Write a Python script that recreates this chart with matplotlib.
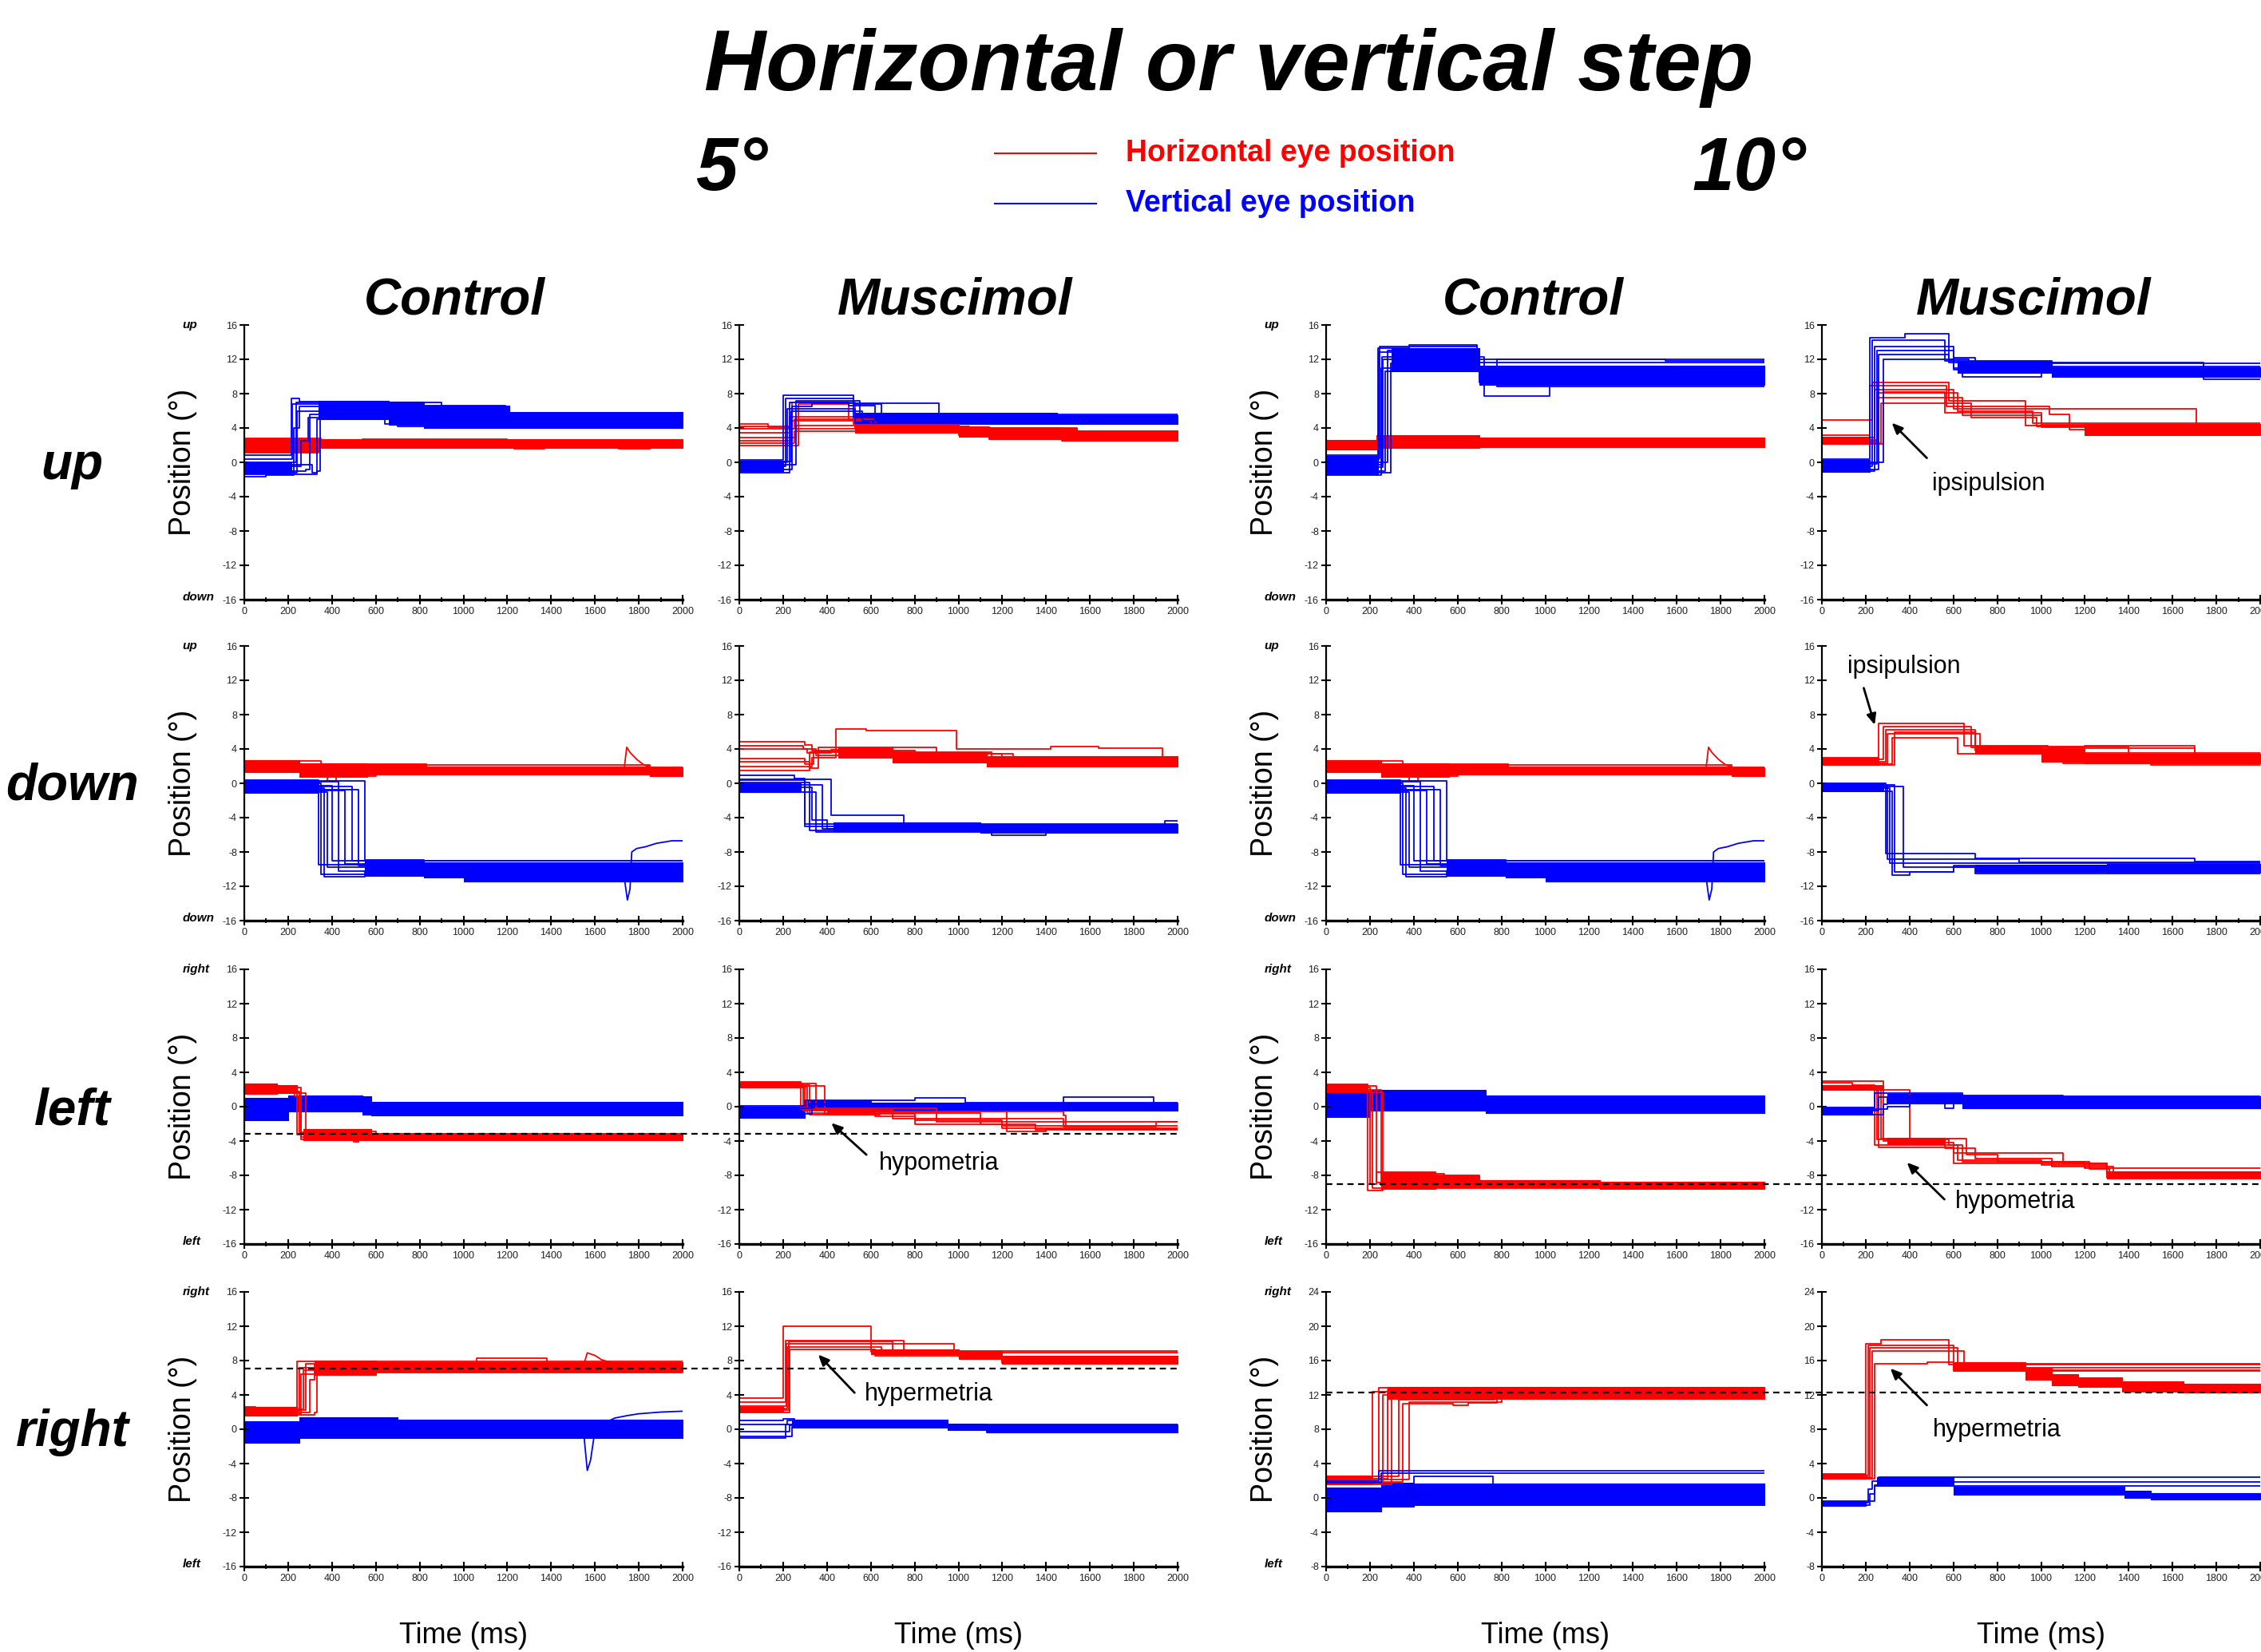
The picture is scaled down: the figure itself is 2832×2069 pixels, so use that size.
import matplotlib
matplotlib.use("Agg")
import matplotlib.pyplot as plt
from matplotlib.lines import Line2D
import matplotlib.transforms as mtransforms

# ---------------------------------------------------------------- data
# traces: step functions, list of (time_ms, position_deg); last value held to 2000 ms
# bands: dense bundles of trials, list of (time_ms, low, high); last entry = end time
# curves: smooth transients, list of (time_ms, position_deg) joined linearly

TITLE = "Horizontal or vertical step"
AMPLITUDES = ["5°", "10°"]
CONDITIONS = ["Control", "Muscimol", "Control", "Muscimol"]
ROW_LABELS = ["up", "down", "left", "right"]
DIR_TOP = ["up", "up", "right", "right"]
DIR_BOTTOM = ["down", "down", "left", "left"]
LEGEND_LABELS = ["Horizontal eye position", "Vertical eye position"]
X_TICKS = [0, 200, 400, 600, 800, 1000, 1200, 1400, 1600, 1800, 2000]
Y_TICKS_16 = [-16, -12, -8, -4, 0, 4, 8, 12, 16]
Y_TICKS_24 = [-8, -4, 0, 4, 8, 12, 16, 20, 24]

# ---- up, 5 deg, control
UP5C_H_BANDS = [[(0, 1.2, 2.8), (340, 1.7, 2.7), (2000, 1.7, 2.7)]]
UP5C_H_TRACES = [
    [(0, 2.8), (350, 2.5), (540, 2.7), (1200, 2.6)],
    [(0, 1.1), (340, 1.9), (1230, 1.6), (1370, 1.9), (1710, 1.6), (1850, 1.8)],
]
UP5C_V_BANDS = [[(0, -1.3, 0.0), (215, -1.3, 0.0)],
                [(340, 5.0, 7.2), (660, 4.4, 7.1), (820, 4.0, 6.6), (1210, 4.0, 5.9), (2000, 4.0, 5.9)]]
UP5C_V_TRACES = [
    [(0, 0.8), (215, 7.4), (250, 7.1), (650, 6.9), (820, 6.6), (1190, 6.2), (1210, 5.8)],
    [(0, 0.4), (220, 6.8), (820, 6.4), (1210, 5.6)],
    [(0, -1.7), (100, -1.5), (225, 4.0), (250, 6.5), (640, 4.5), (700, 4.2), (900, 4.8)],
    [(0, -1.2), (240, 6.0), (800, 5.0)],
    [(0, -0.5), (260, 2.5), (290, 5.2)],
    [(0, -1.0), (280, -0.8), (300, 5.6), (900, 4.6)],
    [(0, -0.3), (310, -1.2), (330, 5.0)],
    [(0, -1.4), (330, -1.0), (345, 6.2), (1200, 5.2)],
    [(0, 0.0), (235, 7.0), (900, 6.5), (1200, 5.6)],
]

# ---- up, 5 deg, muscimol
UP5M_H_BANDS = [[(530, 3.4, 4.5), (1000, 3.0, 4.2), (1140, 2.7, 4.0), (1470, 2.5, 4.0),
                 (1540, 2.5, 3.7), (2000, 2.5, 3.7)]]
UP5M_H_TRACES = [
    [(0, 4.5), (130, 4.1), (240, 7.0), (530, 4.4), (1000, 4.0), (1540, 3.6)],
    [(0, 4.2), (230, 5.3), (530, 4.0), (1140, 3.8), (1540, 3.2)],
    [(0, 3.9), (250, 5.0), (520, 4.5), (1000, 3.5)],
    [(0, 3.4), (230, 4.8), (600, 4.2), (1050, 3.0), (1470, 2.6)],
    [(0, 2.9), (260, 4.3), (700, 3.6), (1140, 2.8)],
    [(0, 2.5), (240, 3.9), (1140, 2.7), (1470, 2.5)],
    [(0, 2.2), (250, 3.6), (1000, 3.2), (1540, 2.9)],
    [(0, 2.0), (270, 6.8), (500, 5.0), (620, 4.0), (1470, 3.3)],
]
UP5M_V_BANDS = [[(0, -1.0, 0.2), (200, -1.0, 0.2)],
                [(530, 4.5, 5.8), (1450, 4.5, 5.5), (2000, 4.5, 5.5)]]
UP5M_V_TRACES = [
    [(0, 0.3), (200, 7.8), (520, 5.2)],
    [(0, -0.5), (210, 7.4), (520, 6.8), (650, 5.6)],
    [(0, -1.2), (230, 7.0), (500, 6.6), (620, 5.0)],
    [(0, -0.8), (240, 6.5), (330, 6.9), (910, 5.2)],
    [(0, 0.0), (220, 6.2), (530, 4.6)],
    [(0, -0.3), (260, 7.2), (550, 5.4)],
    [(0, 0.1), (235, 6.0), (560, 4.8)],
]

# ---- up, 10 deg, control
UP10C_H_BANDS = [[(0, 1.5, 2.6), (230, 1.7, 3.2), (700, 1.8, 2.9), (2000, 1.8, 2.9)]]
UP10C_H_TRACES = []
UP10C_V_BANDS = [[(0, -1.4, 0.7), (235, -1.4, 0.7)],
                 [(300, 10.6, 13.3), (700, 9.0, 11.3), (2000, 9.0, 11.3)]]
UP10C_V_TRACES = [
    [(0, 0.8), (235, 13.3), (380, 13.7), (690, 12.0), (1550, 11.8)],
    [(0, 0.3), (240, 12.8), (700, 11.6)],
    [(0, -1.5), (250, 11.0), (720, 7.7), (1020, 9.0)],
    [(0, -0.6), (260, 12.0), (700, 9.6), (780, 8.8)],
    [(0, -1.0), (270, 10.6), (700, 10.2)],
    [(0, 0.0), (280, 13.0), (650, 11.0)],
    [(0, -1.2), (295, 11.5), (700, 9.3)],
    [(0, 0.5), (245, 13.5), (690, 11.0), (780, 12.0)],
    [(0, -0.3), (255, 12.3), (720, 10.5)],
]

# ---- up, 10 deg, muscimol
UP10M_H_BANDS = [[(0, 2.1, 3.0), (220, 2.1, 3.0)], [(1200, 3.2, 4.5), (2000, 3.2, 4.5)]]
UP10M_H_TRACES = [
    [(0, 4.9), (230, 9.3), (580, 7.2), (930, 4.3)],
    [(0, 3.2), (220, 8.9), (570, 6.5), (1040, 5.6), (1130, 3.8)],
    [(0, 2.9), (240, 8.5), (600, 6.2), (1710, 4.0)],
    [(0, 2.6), (250, 8.1), (620, 6.0), (960, 4.6)],
    [(0, 2.4), (260, 7.5), (640, 5.5), (1000, 4.1), (1540, 3.3)],
    [(0, 2.2), (270, 6.9), (680, 5.2), (980, 4.2), (1300, 3.6)],
    [(0, 2.1), (280, 8.2), (560, 5.8), (1000, 4.4), (1420, 3.2)],
]
UP10M_V_BANDS = [[(0, -1.1, 0.3), (220, -1.1, 0.3)],
                 [(620, 10.4, 11.8), (1050, 10.0, 11.1), (2000, 10.0, 11.1)]]
UP10M_V_TRACES = [
    [(0, 0.4), (220, 14.5), (380, 15.0), (580, 12.0), (670, 11.5)],
    [(0, -0.5), (230, 14.2), (560, 11.8), (1050, 10.9)],
    [(0, -1.0), (240, 13.5), (600, 12.2), (700, 11.2)],
    [(0, -0.2), (250, 13.0), (600, 10.8), (640, 10.0), (1000, 10.4)],
    [(0, -0.8), (260, 12.6), (580, 11.6), (1740, 9.7)],
    [(0, 0.0), (280, 12.0), (600, 11.0)],
]

# ---- down, control (same record shown for 5 and 10 deg)
DOWNC_H_BANDS = [[(0, 1.3, 2.7), (250, 0.7, 2.3), (560, 1.0, 2.2), (830, 1.0, 2.0),
                  (1850, 0.8, 1.9), (2000, 0.8, 1.9)]]
DOWNC_H_TRACES = [
    [(0, 2.0), (250, 1.5), (380, 0.3), (420, 0.8), (600, 1.2)],
    [(0, 2.6), (350, 2.2), (830, 2.1), (1850, 1.9)],
]
DOWNC_H_CURVES = [[(1730, 1.0), (1745, 4.2), (1760, 3.6), (1790, 2.8), (1820, 2.2), (1850, 1.9), (1860, 1.5)]]
DOWNC_V_BANDS = [[(0, -1.1, 0.4), (340, -1.1, 0.4)],
                 [(550, -10.8, -8.9), (820, -11.0, -9.2), (1000, -11.4, -9.2), (2000, -11.4, -9.2)]]
DOWNC_V_TRACES = [
    [(0, 0.4), (340, -9.5)],
    [(0, 0.0), (350, -10.6)],
    [(0, -0.6), (365, -10.9), (550, -10.2)],
    [(0, -1.0), (380, -9.8)],
    [(0, -0.3), (400, -9.0)],
    [(0, 0.2), (430, -10.2)],
    [(0, -0.8), (460, -9.4)],
    [(0, -0.4), (490, -9.0)],
    [(0, -0.7), (520, -9.6)],
    [(0, 0.3), (550, -8.9), (820, -9.3)],
]
DOWNC_V_CURVES = [[(1700, -11.0), (1735, -11.2), (1748, -13.6), (1760, -12.3), (1768, -8.0),
                   (1790, -7.6), (1830, -7.4), (1880, -7.0), (1950, -6.7), (2000, -6.7)]]

# ---- down, 5 deg, muscimol
DOWN5M_H_BANDS = [[(450, 3.0, 4.2), (700, 2.4, 3.6), (1130, 2.0, 3.2), (2000, 2.0, 3.2)]]
DOWN5M_H_TRACES = [
    [(0, 4.8), (300, 4.5), (330, 3.8), (800, 3.6), (1150, 3.0)],
    [(0, 4.4), (290, 4.0), (350, 3.3), (700, 3.4), (1200, 2.6)],
    [(0, 4.0), (310, 3.5), (420, 3.9), (700, 3.0), (1130, 2.5)],
    [(0, 2.9), (300, 2.2), (340, 3.7), (800, 3.1), (1300, 2.2)],
    [(0, 2.5), (320, 1.8), (360, 4.2), (900, 3.4), (1250, 2.8)],
    [(0, 2.0), (330, 3.0), (440, 6.3), (580, 6.1), (990, 4.0), (1420, 4.3), (1640, 4.1), (1930, 2.3)],
    [(0, 1.5), (320, 3.6), (720, 2.5), (1150, 2.1)],
]
DOWN5M_V_BANDS = [[(0, -1.0, 0.0), (280, -1.0, 0.0)],
                  [(430, -5.6, -4.6), (1100, -5.8, -4.7), (2000, -5.8, -4.7)]]
DOWN5M_V_TRACES = [
    [(0, 0.9), (250, 0.6), (300, -4.7)],
    [(0, 0.4), (300, -5.0)],
    [(0, 0.1), (320, -5.5)],
    [(0, -0.5), (330, -4.3), (400, -5.3)],
    [(0, -1.0), (350, -5.7), (1150, -6.0), (1400, -5.6)],
    [(0, 0.5), (420, -3.7), (750, -5.0)],
    [(0, -0.2), (380, -5.3), (1940, -4.4)],
]

# ---- down, 10 deg, muscimol
DOWN10M_H_BANDS = [[(0, 2.1, 3.0), (260, 2.1, 3.0)],
                   [(700, 3.4, 4.4), (1000, 2.5, 4.0), (1200, 2.3, 3.4), (2000, 2.3, 3.4)]]
DOWN10M_H_TRACES = [
    [(0, 3.0), (260, 7.0), (650, 4.4), (1030, 4.1), (1700, 3.3)],
    [(0, 2.8), (280, 6.6), (680, 4.2), (1200, 4.4), (1700, 3.1)],
    [(0, 2.5), (290, 6.2), (700, 3.8), (1050, 3.0)],
    [(0, 2.3), (300, 5.8), (720, 4.0), (1100, 2.3), (1500, 2.1)],
    [(0, 2.2), (320, 5.3), (620, 3.4), (1000, 3.5)],
    [(0, 2.1), (330, 6.0), (700, 4.3), (1400, 3.0)],
]
DOWN10M_V_BANDS = [[(0, -0.9, 0.0), (280, -0.9, 0.0)],
                   [(700, -10.3, -9.5), (1300, -10.4, -9.4), (2000, -10.4, -9.4)]]
DOWN10M_V_TRACES = [
    [(0, 0.0), (290, -8.2), (700, -8.7), (1700, -9.1)],
    [(0, -0.3), (300, -8.8), (900, -9.2)],
    [(0, -0.6), (310, -9.3)],
    [(0, -0.9), (320, -10.7), (400, -10.3), (600, -9.8)],
    [(0, -0.4), (370, -9.8), (700, -10.5)],
    [(0, -0.2), (330, -10.3), (600, -9.6)],
]

# ---- left, 5 deg, control
LEFT5C_H_BANDS = [[(0, 1.5, 2.7), (150, 1.6, 2.5), (240, 1.6, 2.5)],
                  [(270, -3.9, -2.6), (580, -3.9, -3.1), (2000, -3.9, -3.1)]]
LEFT5C_H_TRACES = [
    [(0, 2.0), (230, 1.2), (260, -3.5)],
    [(0, 2.4), (240, -3.3), (500, -4.1), (520, -3.6)],
    [(0, 1.8), (250, -3.0), (580, -3.3)],
    [(0, 2.2), (260, -3.8)],
    [(0, 1.6), (280, -2.9), (600, -3.4)],
]
LEFT5C_V_BANDS = [[(0, -1.6, 1.0), (200, -0.6, 1.3), (540, -0.9, 1.2), (580, -1.0, 0.6), (2000, -1.0, 0.6)]]
LEFT5C_V_TRACES = []

# ---- left, 5 deg, muscimol
LEFT5M_H_BANDS = [[(0, 2.2, 2.9), (280, 2.2, 2.9)], [(400, -0.9, -0.3), (620, -0.9, -0.3)]]
LEFT5M_H_TRACES = [
    [(0, 2.9), (280, -0.3), (620, -0.6), (1220, -2.9), (1400, -2.6)],
    [(0, 2.6), (290, -0.5), (620, -1.1), (800, -1.6), (1200, -2.5)],
    [(0, 2.4), (390, -0.8), (800, -2.0), (1200, -2.2)],
    [(0, 2.2), (300, -0.4), (700, -1.4), (1480, -2.3), (1900, -1.8)],
    [(0, 2.5), (320, -0.9), (640, -0.6), (1480, -1.0), (1490, -2.6)],
    [(0, 2.7), (350, -0.2), (900, -1.8)],
    [(0, 2.3), (310, -0.7), (1100, -2.0), (1350, -2.7)],
]
LEFT5M_V_BANDS = [[(0, -1.3, 0.0), (300, -0.4, 0.7), (600, -0.5, 0.5), (2000, -0.5, 0.5)]]
LEFT5M_V_TRACES = [
    [(0, 0.1), (300, 0.7), (800, 1.0), (1030, 0.5)],
    [(0, -0.2), (320, 0.4), (1480, 1.1), (1890, 0.3)],
    [(0, -1.3), (280, -0.8), (330, 0.2)],
]

# ---- left, 10 deg, control
LEFT10C_H_BANDS = [[(0, 1.6, 2.6), (190, 1.6, 2.6)],
                   [(250, -9.6, -7.6), (500, -9.4, -8.0), (700, -9.4, -8.6), (1250, -9.6, -8.7), (2000, -9.6, -8.7)]]
LEFT10C_H_TRACES = [
    [(0, 2.6), (190, -9.8), (260, -8.0), (700, -9.0)],
    [(0, 2.2), (200, -9.0), (230, -7.6), (500, -8.2), (700, -8.8)],
    [(0, 1.8), (210, -9.5)],
    [(0, 2.4), (230, -8.8)],
    [(0, 2.0), (250, -9.2)],
    [(0, 1.7), (260, -7.8), (540, -8.2), (700, -8.9)],
]
LEFT10C_V_BANDS = [[(0, -1.2, 1.7), (200, -0.5, 2.0), (730, -0.7, 1.3), (2000, -0.7, 1.3)]]
LEFT10C_V_TRACES = []

# ---- left, 10 deg, muscimol
LEFT10M_H_BANDS = [[(0, 2.0, 2.5), (280, 2.0, 2.5)], [(300, -4.4, -3.6), (560, -4.4, -3.6)],
                   [(1300, -8.4, -7.5), (2000, -8.4, -7.5)]]
LEFT10M_H_TRACES = [
    [(0, 3.0), (280, -4.0), (560, -4.2), (600, -5.4), (1100, -6.6), (1300, -7.6)],
    [(0, 2.8), (140, 2.5), (240, -4.5), (620, -6.2), (1000, -6.8), (1300, -8.3)],
    [(0, 2.3), (250, -3.8), (580, -4.5), (640, -6.4), (1200, -7.2)],
    [(0, 2.0), (400, -4.2), (560, -4.8), (700, -6.0), (1050, -7.0), (1330, -8.0)],
    [(0, 2.4), (260, -4.7), (600, -6.6), (1300, -7.8)],
    [(0, 2.1), (270, -3.7), (660, -5.6), (800, -6.4), (1220, -7.3), (1310, -8.4)],
]
LEFT10M_V_BANDS = [[(0, -0.9, -0.1), (230, -0.9, -0.1)],
                   [(300, 0.4, 1.5), (640, -0.2, 1.2), (2000, -0.2, 1.2)]]
LEFT10M_V_TRACES = [
    [(0, -0.1), (240, 1.6), (640, 1.2)],
    [(0, -0.5), (260, 1.1), (560, -0.2), (600, 0.8)],
    [(0, -0.9), (280, 0.3), (300, 1.0)],
    [(0, -0.3), (300, 0.0), (400, 1.3), (1100, 1.1)],
]

# ---- right, 5 deg, control
RIGHT5C_H_BANDS = [[(0, 1.6, 2.6), (240, 1.6, 2.6)],
                   [(320, 6.3, 8.0), (600, 6.7, 7.8), (2000, 6.7, 7.8)]]
RIGHT5C_H_TRACES = [
    [(0, 2.6), (50, 2.4), (240, 7.9)],
    [(0, 2.1), (250, 7.2), (600, 6.6)],
    [(0, 1.8), (260, 6.4), (600, 6.8)],
    [(0, 2.3), (270, 6.9)],
    [(0, 2.0), (300, 5.8), (320, 7.5)],
    [(0, 1.7), (320, 2.0), (330, 6.5), (600, 7.0)],
    [(0, 2.2), (280, 7.6), (1060, 8.3), (1380, 7.6)],
]
RIGHT5C_H_CURVES = [[(1550, 7.6), (1565, 8.9), (1600, 8.6), (1630, 8.1), (1670, 7.8)]]
RIGHT5C_V_BANDS = [[(0, -1.6, 0.9), (250, -1.0, 1.4), (700, -1.0, 1.1), (2000, -1.0, 1.1)]]
RIGHT5C_V_TRACES = []
RIGHT5C_V_CURVES = [[(1550, -0.8), (1565, -4.8), (1580, -3.6), (1595, -1.0), (1650, 0.8), (1690, 1.3),
                     (1750, 1.6), (1800, 1.8), (1900, 2.0), (2000, 2.1)]]

# ---- right, 5 deg, muscimol
RIGHT5M_H_BANDS = [[(0, 2.0, 2.6), (200, 2.0, 2.6)],
                   [(600, 8.7, 9.3), (1000, 8.2, 9.1), (1200, 7.6, 8.6), (2000, 7.6, 8.6)]]
RIGHT5M_H_TRACES = [
    [(0, 3.6), (200, 12.0), (600, 9.0), (1000, 8.8), (1200, 8.2)],
    [(0, 3.2), (210, 10.3), (750, 9.2), (1000, 8.5)],
    [(0, 2.7), (215, 10.0), (980, 8.9)],
    [(0, 2.4), (220, 9.6), (650, 8.8), (1200, 8.0)],
    [(0, 2.0), (230, 9.3), (620, 8.6), (1200, 7.7)],
    [(0, 2.2), (225, 10.2), (700, 9.1)],
]
RIGHT5M_V_BANDS = [[(240, 0.2, 1.1), (950, -0.1, 0.6), (1130, -0.4, 0.6), (2000, -0.4, 0.6)]]
RIGHT5M_V_TRACES = [
    [(0, 1.0), (200, 1.2), (250, 0.8), (950, 0.3)],
    [(0, 0.6), (220, 1.0), (900, 0.6)],
    [(0, -0.3), (230, 0.5)],
    [(0, -0.8), (240, 0.3), (1130, -0.4)],
    [(0, -1.0), (210, 0.6), (1130, 0.0)],
]

# ---- right, 10 deg, control
RIGHT10C_H_BANDS = [[(0, 1.6, 2.6), (210, 1.6, 2.6)], [(280, 11.5, 12.9), (2000, 11.5, 12.9)]]
RIGHT10C_H_TRACES = [
    [(0, 2.4), (210, 12.4)],
    [(0, 2.0), (240, 12.8)],
    [(0, 1.8), (260, 12.0)],
    [(0, 2.2), (280, 12.6)],
    [(0, 1.6), (300, 11.8), (760, 12.0)],
    [(0, 2.5), (330, 11.4), (770, 12.2)],
    [(0, 1.9), (350, 11.0), (580, 10.8), (650, 11.1), (780, 11.8)],
    [(0, 2.1), (380, 11.2), (800, 11.8)],
]
RIGHT10C_V_BANDS = [[(0, -1.6, 1.2), (250, -1.0, 1.8), (400, -0.8, 1.7), (2000, -0.8, 1.7)]]
RIGHT10C_V_TRACES = [
    [(0, 2.0), (240, 3.2)],
    [(0, 1.8), (250, 2.9)],
    [(0, 0.5), (400, 2.5), (760, 1.5)],
    [(0, -1.6), (100, -1.4), (250, -1.0), (370, 0.5)],
]

# ---- right, 10 deg, muscimol
RIGHT10M_H_BANDS = [[(0, 2.2, 2.8), (200, 2.2, 2.8)],
                    [(600, 14.8, 15.8), (930, 13.8, 15.2), (1050, 13.1, 14.4), (1170, 12.9, 14.0),
                     (1370, 12.4, 13.6), (1650, 12.3, 13.3), (2000, 12.3, 13.3)]]
RIGHT10M_H_TRACES = [
    [(0, 2.8), (200, 18.0), (270, 18.4), (580, 15.5)],
    [(0, 2.6), (210, 17.8), (600, 15.2)],
    [(0, 2.4), (220, 17.5), (620, 14.9)],
    [(0, 2.3), (230, 17.1), (650, 15.6)],
    [(0, 2.2), (240, 15.6), (480, 15.8), (600, 14.8)],
]
RIGHT10M_V_BANDS = [[(0, -0.9, -0.4), (200, -0.9, -0.4)],
                    [(250, 1.4, 2.4), (600, 0.4, 1.3), (1380, 0.0, 0.8), (1500, -0.2, 0.6), (2000, -0.2, 0.6)]]
RIGHT10M_V_TRACES = [
    [(0, -0.6), (210, 1.0), (230, 2.0), (260, 2.4)],
    [(0, -0.8), (220, 0.5), (240, 1.5), (270, 1.9)],
    [(0, -0.4), (240, 1.4)],
]

# target positions (dashed lines): row, first column, degrees
TARGET_LEVELS = [(2, 0, -3.2), (2, 2, -9.05), (3, 0, 7.1), (3, 2, 12.25)]

# annotations: row, col, text, text position, arrow tail, arrow tip
ANNOTATIONS = [
    (0, 3, "ipsipulsion", (762, -2.5), (479, 0.5), (319, 4.6)),
    (1, 3, "ipsipulsion", (375, 13.6), (191, 11.1), (241, 6.8)),
    (2, 1, "hypometria", (910, -6.6), (580, -5.6), (420, -1.9)),
    (2, 3, "hypometria", (882, -11.1), (559, -10.8), (388, -6.5)),
    (3, 1, "hypermetria", (865, 4.1), (526, 4.25), (360, 8.7)),
    (3, 3, "hypermetria", (798, 7.9), (479, 10.8), (312, 15.1)),
]

Y16 = (-16, 16)
Y24 = (-8, 24)
PANELS = [
    (0, 0, UP5C_H_BANDS, UP5C_H_TRACES, [], UP5C_V_BANDS, UP5C_V_TRACES, [], Y16),
    (0, 1, UP5M_H_BANDS, UP5M_H_TRACES, [], UP5M_V_BANDS, UP5M_V_TRACES, [], Y16),
    (0, 2, UP10C_H_BANDS, UP10C_H_TRACES, [], UP10C_V_BANDS, UP10C_V_TRACES, [], Y16),
    (0, 3, UP10M_H_BANDS, UP10M_H_TRACES, [], UP10M_V_BANDS, UP10M_V_TRACES, [], Y16),
    (1, 0, DOWNC_H_BANDS, DOWNC_H_TRACES, DOWNC_H_CURVES, DOWNC_V_BANDS, DOWNC_V_TRACES, DOWNC_V_CURVES, Y16),
    (1, 1, DOWN5M_H_BANDS, DOWN5M_H_TRACES, [], DOWN5M_V_BANDS, DOWN5M_V_TRACES, [], Y16),
    (1, 2, DOWNC_H_BANDS, DOWNC_H_TRACES, DOWNC_H_CURVES, DOWNC_V_BANDS, DOWNC_V_TRACES, DOWNC_V_CURVES, Y16),
    (1, 3, DOWN10M_H_BANDS, DOWN10M_H_TRACES, [], DOWN10M_V_BANDS, DOWN10M_V_TRACES, [], Y16),
    (2, 0, LEFT5C_H_BANDS, LEFT5C_H_TRACES, [], LEFT5C_V_BANDS, LEFT5C_V_TRACES, [], Y16),
    (2, 1, LEFT5M_H_BANDS, LEFT5M_H_TRACES, [], LEFT5M_V_BANDS, LEFT5M_V_TRACES, [], Y16),
    (2, 2, LEFT10C_H_BANDS, LEFT10C_H_TRACES, [], LEFT10C_V_BANDS, LEFT10C_V_TRACES, [], Y16),
    (2, 3, LEFT10M_H_BANDS, LEFT10M_H_TRACES, [], LEFT10M_V_BANDS, LEFT10M_V_TRACES, [], Y16),
    (3, 0, RIGHT5C_H_BANDS, RIGHT5C_H_TRACES, RIGHT5C_H_CURVES, RIGHT5C_V_BANDS, RIGHT5C_V_TRACES, RIGHT5C_V_CURVES, Y16),
    (3, 1, RIGHT5M_H_BANDS, RIGHT5M_H_TRACES, [], RIGHT5M_V_BANDS, RIGHT5M_V_TRACES, [], Y16),
    (3, 2, RIGHT10C_H_BANDS, RIGHT10C_H_TRACES, [], RIGHT10C_V_BANDS, RIGHT10C_V_TRACES, [], Y24),
    (3, 3, RIGHT10M_H_BANDS, RIGHT10M_H_TRACES, [], RIGHT10M_V_BANDS, RIGHT10M_V_TRACES, [], Y24),
]

# ---------------------------------------------------------------- style / layout
RED = "#FF0000"
BLUE = "#0000FF"
plt.rcParams["font.family"] = ["Liberation Sans", "DejaVu Sans"]
plt.rcParams["axes.unicode_minus"] = False

W, H = 2832, 2069
fig = plt.figure(figsize=(W / 100, H / 100), dpi=100)

COL_LEFT = [306 / W, 926 / W, 1661 / W, 2282 / W]
AX_W = 549 / W
ROW_BOTTOM = [1 - 751 / H, 1 - 1153 / H, 1 - 1558 / H, 1 - 1962 / H]
AX_H = 344 / H


def draw_band(ax, pts, color):
    ts = [p[0] for p in pts]
    lo = [p[1] for p in pts]
    hi = [p[2] for p in pts]
    ax.fill_between(ts, lo, hi, step="post", color=color, lw=0.8, edgecolor=color)


def draw_trace(ax, pts, color):
    ts = [p[0] for p in pts] + [2000]
    vs = [p[1] for p in pts] + [pts[-1][1]]
    ax.plot(ts, vs, drawstyle="steps-post", color=color, lw=1.3)


def draw_curve(ax, pts, color):
    ax.plot([p[0] for p in pts], [p[1] for p in pts], color=color, lw=1.3)


axes = {}
for (r, c, hb, ht, hc, vb, vt, vc, ylim) in PANELS:
    ax = fig.add_axes([COL_LEFT[c], ROW_BOTTOM[r], AX_W, AX_H])
    axes[(r, c)] = ax
    for b in hb:
        draw_band(ax, b, RED)
    for t in ht:
        draw_trace(ax, t, RED)
    for cu in hc:
        draw_curve(ax, cu, RED)
    for b in vb:
        draw_band(ax, b, BLUE)
    for t in vt:
        draw_trace(ax, t, BLUE)
    for cu in vc:
        draw_curve(ax, cu, BLUE)

    ax.set_xlim(0, 2000)
    ax.set_ylim(*ylim)
    for s in ["top", "right"]:
        ax.spines[s].set_visible(False)
    ax.spines["left"].set_linewidth(1.6)
    ax.spines["bottom"].set_linewidth(2.4)
    ax.set_xticks(X_TICKS)
    ax.set_xticks(range(100, 2000, 200), minor=True)
    ax.set_yticks(Y_TICKS_24 if ylim == Y24 else Y_TICKS_16)
    ax.tick_params(axis="both", which="major", direction="inout", length=9, width=1.5,
                   labelsize=9, pad=2, labelcolor="#222222")
    ax.tick_params(axis="x", which="minor", direction="inout", length=5, width=1.3)

    if c in (0, 2):
        ax.text(-0.140, 0.5, "Position (°)", rotation=90, ha="center", va="center",
                transform=ax.transAxes, fontsize=27)
        ax.text(-0.141, 1.0, DIR_TOP[r], ha="left", va="center", transform=ax.transAxes,
                fontsize=11, fontweight="bold", style="italic")
        ax.text(-0.141, 0.01, DIR_BOTTOM[r], ha="left", va="center", transform=ax.transAxes,
                fontsize=11, fontweight="bold", style="italic")

# target dashed lines spanning control + muscimol panels
for (r, c, lvl) in TARGET_LEVELS:
    ax0 = axes[(r, c)]
    ax1 = axes[(r, c + 1)]
    x0 = ax0.get_position().x0
    x1 = min(ax1.get_position().x1, 1.0)
    trans = mtransforms.blended_transform_factory(fig.transFigure, ax0.transData)
    fig.add_artist(Line2D([x0, x1], [lvl, lvl], transform=trans, color="black",
                          lw=1.6, linestyle=(0, (3.5, 2.5))))

# annotations
for (r, c, txt, tpos, tail, tip) in ANNOTATIONS:
    ax = axes[(r, c)]
    ax.annotate("", xy=tip, xytext=tail,
                arrowprops=dict(arrowstyle="-|>,head_length=0.8,head_width=0.35",
                                color="black", lw=2.0, shrinkA=0, shrinkB=0))
    ax.text(tpos[0], tpos[1], txt, ha="center", va="center", fontsize=22)

# time labels
for c in range(4):
    pos = axes[(3, c)].get_position()
    fig.text((pos.x0 + pos.x1) / 2, 0.010, "Time (ms)", ha="center", va="center", fontsize=26)

# column headers
for c, xc in enumerate([315 / 1568, 662 / 1568, 1063 / 1568, 1410 / 1568]):
    fig.text(xc, 0.818, CONDITIONS[c], ha="center", va="center", fontsize=46,
             fontweight="bold", style="italic")

# row labels
for r, yc in enumerate([0.718, 0.524, 0.3275, 0.1328]):
    fig.text(0.032, yc, ROW_LABELS[r], ha="center", va="center", fontsize=46,
             fontweight="bold", style="italic")

# title, amplitudes, legend
fig.text(0.5434, 0.959, TITLE, ha="center", va="center", fontsize=77,
         fontweight="bold", style="italic")
fig.text(507 / 1568, 0.897, AMPLITUDES[0], ha="center", va="center", fontsize=68,
         fontweight="bold", style="italic")
fig.text(1213 / 1568, 0.897, AMPLITUDES[1], ha="center", va="center", fontsize=68,
         fontweight="bold", style="italic")
for yy, col, lab in [(0.9074, RED, LEGEND_LABELS[0]), (0.8769, BLUE, LEGEND_LABELS[1])]:
    fig.add_artist(Line2D([0.440, 0.4847], [yy, yy], transform=fig.transFigure, color=col, lw=1.5))
    fig.text(0.498, yy, lab, ha="left", va="center", fontsize=27, fontweight="bold", color=col)

fig.savefig("out.png", dpi=100)
